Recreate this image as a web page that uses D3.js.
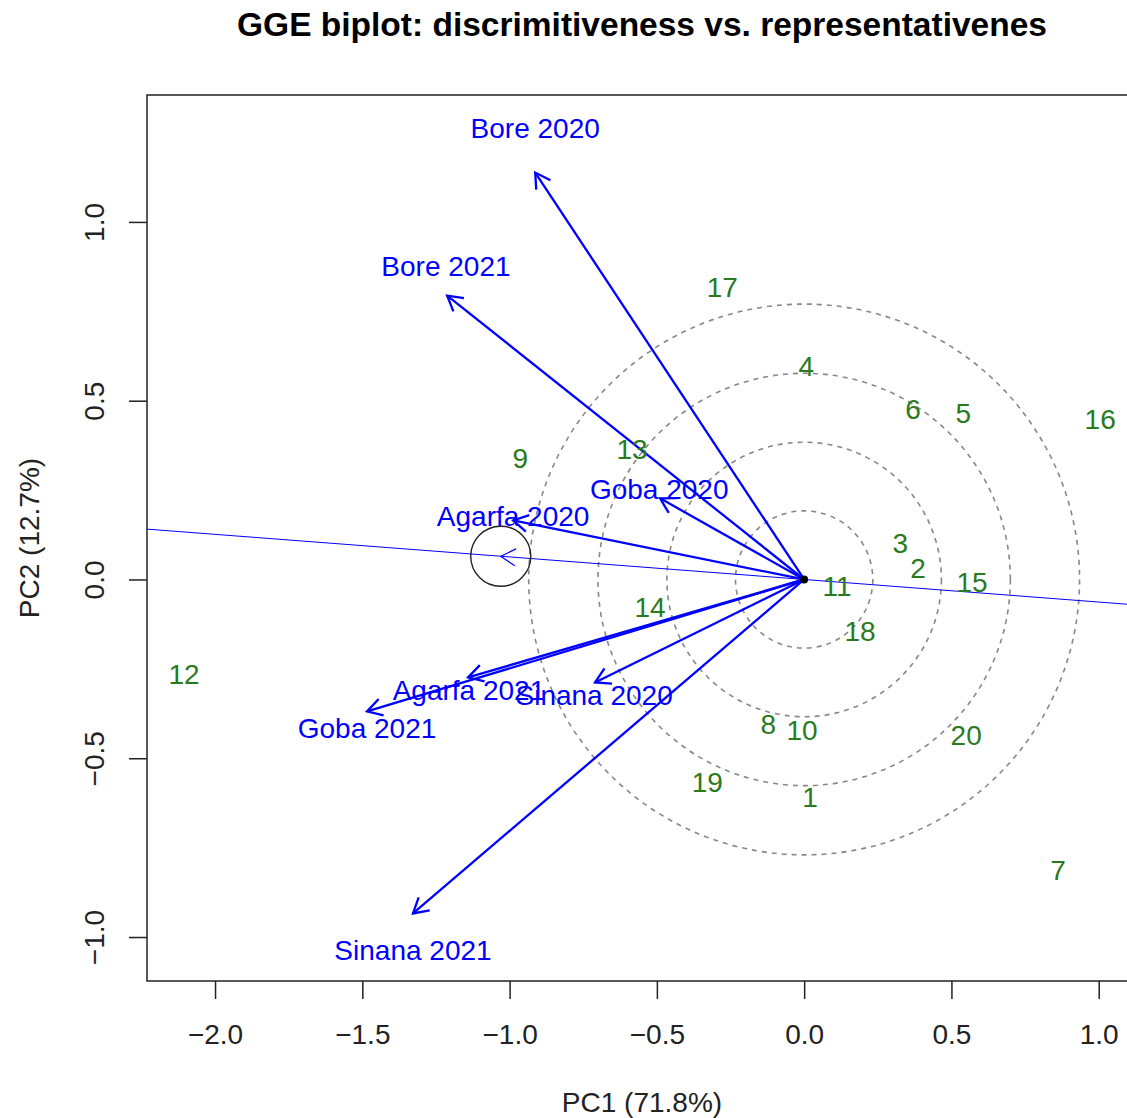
<!DOCTYPE html>
<html>
<head>
<meta charset="utf-8">
<script src="https://cdn.jsdelivr.net/npm/d3@7"></script>
<style>
  html, body { margin: 0; padding: 0; background: #fff; }
  svg { display: block; font-family: "Liberation Sans", Arial, sans-serif; }
</style>
</head>
<body>
<div id="chart"></div>
<script>
// environments (vectors) and their label anchors, in PC units
const envNames = ["Bore 2020", "Bore 2021", "Goba 2020", "Agarfa 2020", "Agarfa 2021", "Goba 2021", "Sinana 2020", "Sinana 2021"];
const envPC1 = [-0.913, -1.212, -0.489, -0.988, -1.141, -1.484, -0.710, -1.328];
const envPC2 = [1.138, 0.794, 0.227, 0.165, -0.274, -0.369, -0.288, -0.934];
const envLabelPC1 = [-0.913, -1.216, -0.492, -0.988, -1.138, -1.484, -0.713, -1.328];
const envLabelPC2 = [1.262, 0.878, 0.252, 0.179, -0.308, -0.414, -0.322, -1.035];

// genotypes
const genoNames = ["1", "2", "3", "4", "5", "6", "7", "8", "9", "10", "11", "12", "13", "14", "15", "16", "17", "18", "19", "20"];
const genoPC1 = [0.020, 0.387, 0.326, 0.007, 0.540, 0.370, 0.862, -0.122, -0.964, -0.007, 0.112, -2.105, -0.584, -0.523, 0.570, 1.005, -0.278, 0.190, -0.329, 0.550];
const genoPC2 = [-0.607, 0.031, 0.101, 0.596, 0.467, 0.478, -0.811, -0.403, 0.341, -0.420, -0.017, -0.263, 0.366, -0.078, -0.008, 0.448, 0.817, -0.143, -0.565, -0.436];

// average environment coordinate and concentric circles
const meanEnv = [-1.03, 0.065];
const meanEnvRadius = 0.102;
const circleRadii = [0.233, 0.466, 0.700, 0.935];

const xTicks = [-2.0, -1.5, -1.0, -0.5, 0.0, 0.5, 1.0];
const yTicks = [-1.0, -0.5, 0.0, 0.5, 1.0];

const width = 1127, height = 1118;
const margin = { left: 147, top: 95, right: 1137, bottom: 981 };

const svg = d3.select("#chart").append("svg")
  .attr("width", width)
  .attr("height", height);

const x = d3.scaleLinear().domain([-2.231, 1.13]).range([margin.left, margin.right]);
const y = d3.scaleLinear().domain([-1.123, 1.355]).range([margin.bottom, margin.top]);
const fmt = d3.format(".1f");

svg.append("defs").append("clipPath").attr("id", "plotClip")
  .append("rect")
  .attr("x", margin.left).attr("y", margin.top)
  .attr("width", margin.right - margin.left).attr("height", margin.bottom - margin.top);

const plot = svg.append("g").attr("clip-path", "url(#plotClip)");

// concentric circles around origin
plot.selectAll("circle.ring")
  .data(circleRadii)
  .enter()
  .append("circle")
  .attr("class", "ring")
  .attr("cx", x(0))
  .attr("cy", y(0))
  .attr("r", (d) => x(d) - x(0))
  .attr("fill", "none")
  .attr("stroke", "#888")
  .attr("stroke-width", 1.6)
  .attr("stroke-dasharray", "5,5");

// average environment axis
const slope = meanEnv[1] / meanEnv[0];
const xr = x.domain();
plot.append("line")
  .attr("x1", x(xr[0])).attr("y1", y(xr[0] * slope))
  .attr("x2", x(xr[1])).attr("y2", y(xr[1] * slope))
  .attr("stroke", "#0000ff")
  .attr("stroke-width", 1);

function arrowHead(g, x0, y0, x1, y1, len, width) {
  const ang = Math.atan2(y1 - y0, x1 - x0);
  const a = Math.PI / 6;
  const p1 = [x1 - len * Math.cos(ang - a), y1 - len * Math.sin(ang - a)];
  const p2 = [x1 - len * Math.cos(ang + a), y1 - len * Math.sin(ang + a)];
  g.append("path")
    .attr("d", `M${p1[0]},${p1[1]}L${x1},${y1}L${p2[0]},${p2[1]}`)
    .attr("fill", "none")
    .attr("stroke", "#0000ff")
    .attr("stroke-width", width);
}

// arrowhead at the average environment + small circle
arrowHead(plot, x(0), y(0), x(meanEnv[0]), y(meanEnv[1]), 17, 1.2);
plot.append("circle")
  .attr("cx", x(meanEnv[0]))
  .attr("cy", y(meanEnv[1]))
  .attr("r", x(meanEnvRadius) - x(0))
  .attr("fill", "none")
  .attr("stroke", "#222")
  .attr("stroke-width", 1.4);

// environment vectors
envNames.forEach((name, i) => {
  plot.append("line")
    .attr("x1", x(0)).attr("y1", y(0))
    .attr("x2", x(envPC1[i])).attr("y2", y(envPC2[i]))
    .attr("stroke", "#0000ff")
    .attr("stroke-width", 2.3);
  arrowHead(plot, x(0), y(0), x(envPC1[i]), y(envPC2[i]), 17, 2.3);
});

plot.append("circle")
  .attr("cx", x(0)).attr("cy", y(0)).attr("r", 4)
  .attr("fill", "#000");

// genotype labels
plot.selectAll("text.geno")
  .data(genoNames)
  .enter()
  .append("text")
  .attr("class", "geno")
  .attr("x", (d, i) => x(genoPC1[i]))
  .attr("y", (d, i) => y(genoPC2[i]))
  .attr("dy", "0.36em")
  .attr("text-anchor", "middle")
  .attr("font-size", "28px")
  .attr("fill", "#2a7a1e")
  .text((d) => d);

// environment labels
plot.selectAll("text.env")
  .data(envNames)
  .enter()
  .append("text")
  .attr("class", "env")
  .attr("x", (d, i) => x(envLabelPC1[i]))
  .attr("y", (d, i) => y(envLabelPC2[i]))
  .attr("dy", "0.36em")
  .attr("text-anchor", "middle")
  .attr("font-size", "28px")
  .attr("fill", "#0000ff")
  .text((d) => d);

// frame
svg.append("rect")
  .attr("x", margin.left).attr("y", margin.top)
  .attr("width", margin.right - margin.left).attr("height", margin.bottom - margin.top)
  .attr("fill", "none")
  .attr("stroke", "#222")
  .attr("stroke-width", 1.5);

// axes
const xAxis = svg.append("g")
  .attr("transform", `translate(0,${margin.bottom})`)
  .call(d3.axisBottom(x).tickValues(xTicks).tickFormat(fmt).tickSize(18).tickPadding(25));
xAxis.select(".domain").remove();
xAxis.selectAll("line").attr("stroke", "#222").attr("stroke-width", 1.5);
xAxis.selectAll("text").attr("font-size", "28px").attr("fill", "#222")
  .attr("font-family", "Liberation Sans, Arial, sans-serif");

const yAxis = svg.append("g")
  .attr("transform", `translate(${margin.left},0)`)
  .call(d3.axisLeft(y).tickValues(yTicks).tickFormat(fmt).tickSize(18));
yAxis.select(".domain").remove();
yAxis.selectAll("line").attr("stroke", "#222").attr("stroke-width", 1.5);
yAxis.selectAll("text")
  .attr("x", null).attr("dy", null)
  .attr("transform", (d) => `translate(${94 - margin.left},0) rotate(-90)`)
  .attr("text-anchor", "middle")
  .attr("dy", "0.36em")
  .attr("font-size", "28px")
  .attr("fill", "#222")
  .attr("font-family", "Liberation Sans, Arial, sans-serif");

// titles
svg.append("text")
  .attr("x", (margin.left + margin.right) / 2)
  .attr("y", 36)
  .attr("text-anchor", "middle")
  .attr("font-weight", "bold")
  .attr("font-size", "33.5px")
  .attr("fill", "#000")
  .text("GGE biplot: discrimitiveness vs. representativenes");

svg.append("text")
  .attr("x", (margin.left + margin.right) / 2)
  .attr("y", 1112)
  .attr("text-anchor", "middle")
  .attr("font-size", "28px")
  .attr("fill", "#222")
  .text("PC1 (71.8%)");

svg.append("text")
  .attr("transform", `translate(29,${(margin.top + margin.bottom) / 2}) rotate(-90)`)
  .attr("text-anchor", "middle")
  .attr("dy", "0.36em")
  .attr("font-size", "28px")
  .attr("fill", "#222")
  .text("PC2 (12.7%)");
</script>
</body>
</html>
